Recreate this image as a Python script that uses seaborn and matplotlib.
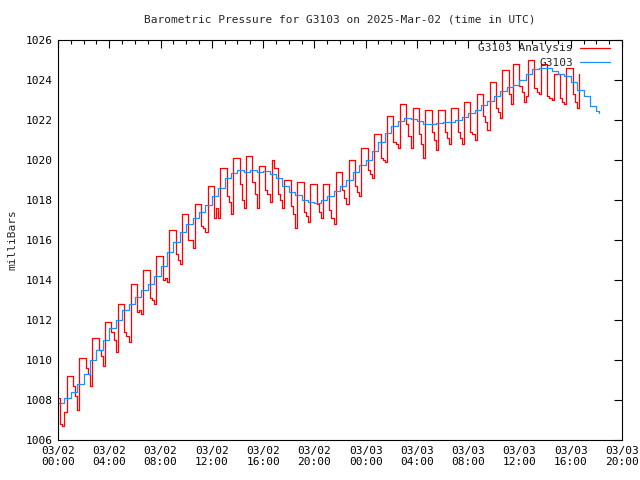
import matplotlib
matplotlib.use("Agg")
import matplotlib.pyplot as plt
import seaborn as sns
import numpy as np
import pandas as pd

# ---- data ----
title = "Barometric Pressure for G3103 on 2025-Mar-02 (time in UTC)"
ylabel = "milliBars"
series_names = ["G3103 Analysis", "G3103"]

# Analysis series: 10-minute samples starting 03/02 00:00 (hours)
analysis_values = [
    1008.1, 1006.8, 1006.7, 1007.4, 1009.2, 1009.2,
    1009.2, 1008.7, 1008.2, 1007.5, 1010.1, 1010.1,
    1010.1, 1009.6, 1009.3, 1008.7, 1011.1, 1011.1,
    1011.1, 1010.5, 1010.2, 1009.7, 1011.9, 1011.9,
    1011.9, 1011.4, 1011.0, 1010.4, 1012.8, 1012.8,
    1012.8, 1011.4, 1011.2, 1010.9, 1013.8, 1013.8,
    1013.8, 1012.4, 1012.5, 1012.3, 1014.5, 1014.5,
    1014.5, 1013.1, 1013.0, 1012.8, 1015.2, 1015.2,
    1015.2, 1014.0, 1014.1, 1013.9, 1016.5, 1016.5,
    1016.5, 1015.3, 1015.0, 1014.8, 1017.3, 1017.3,
    1017.3, 1016.0, 1016.0, 1015.6, 1017.8, 1017.8,
    1017.8, 1016.7, 1016.6, 1016.4, 1018.7, 1018.7,
    1018.7, 1017.1, 1017.6, 1017.1, 1019.6, 1019.6,
    1019.6, 1018.2, 1017.9, 1017.3, 1020.1, 1020.1,
    1020.1, 1018.8, 1018.0, 1017.6, 1020.2, 1020.2,
    1020.2, 1018.9, 1018.3, 1017.6, 1019.7, 1019.7,
    1019.7, 1018.5, 1018.3, 1017.9, 1020.0, 1019.6,
    1019.6, 1018.3, 1018.0, 1017.6, 1019.0, 1019.0,
    1019.0, 1017.7, 1017.3, 1016.6, 1018.9, 1018.9,
    1018.9, 1017.4, 1017.2, 1016.9, 1018.8, 1018.8,
    1018.8, 1017.8, 1017.4, 1017.1, 1018.8, 1018.8,
    1018.8, 1017.5, 1017.1, 1016.8, 1019.4, 1019.4,
    1019.4, 1018.5, 1018.1, 1017.8, 1020.0, 1020.0,
    1020.0, 1018.7, 1018.4, 1018.2, 1020.6, 1020.6,
    1020.6, 1019.5, 1019.3, 1019.1, 1021.3, 1021.3,
    1021.3, 1020.1, 1020.0, 1019.9, 1022.2, 1022.2,
    1022.2, 1020.9, 1020.8, 1020.6, 1022.8, 1022.8,
    1022.8, 1021.8, 1021.2, 1020.6, 1022.6, 1022.6,
    1022.6, 1021.3, 1020.8, 1020.1, 1022.5, 1022.5,
    1022.5, 1021.4, 1021.0, 1020.5, 1022.5, 1022.5,
    1022.5, 1021.4, 1021.1, 1020.8, 1022.6, 1022.6,
    1022.6, 1021.4, 1021.1, 1020.8, 1022.9, 1022.9,
    1022.9, 1021.4, 1021.3, 1021.0, 1023.3, 1023.3,
    1023.3, 1022.2, 1021.9, 1021.5, 1023.9, 1023.9,
    1023.9, 1022.6, 1022.4, 1022.1, 1024.5, 1024.5,
    1024.5, 1023.3, 1022.8, 1024.8, 1024.8, 1024.8,
    1023.7, 1023.4, 1022.9, 1023.2, 1025.0, 1025.0,
    1025.0, 1023.6, 1023.4, 1023.3, 1024.8, 1024.8,
    1024.8, 1023.2, 1023.1, 1023.0, 1024.3, 1024.3,
    1024.3, 1023.1, 1022.9, 1022.8, 1024.6, 1024.6,
    1024.6, 1023.3, 1022.9, 1022.6, 1024.3,
]

# Observed series: 30-minute samples starting 03/02 00:00
observed_values = [
    1007.85, 1008.1, 1008.4, 1008.8, 1009.3, 1010.0, 1010.5, 1011.0,
    1011.6, 1012.0, 1012.5, 1012.8, 1013.15, 1013.5, 1013.8, 1014.2,
    1014.7, 1015.4, 1015.9, 1016.4, 1016.8, 1017.1, 1017.4, 1017.75,
    1018.2, 1018.6, 1019.1, 1019.35, 1019.5, 1019.4, 1019.5, 1019.4,
    1019.45, 1019.3, 1019.1, 1018.7, 1018.4, 1018.25, 1018.0, 1017.9,
    1017.85, 1018.0, 1018.2, 1018.45, 1018.7, 1019.0, 1019.4, 1019.75,
    1020.0, 1020.45, 1020.9, 1021.35, 1021.7, 1021.95, 1022.1, 1022.05,
    1021.95, 1021.8, 1021.8, 1021.85, 1021.9, 1021.9, 1022.0, 1022.15,
    1022.35, 1022.5, 1022.75, 1022.95, 1023.2, 1023.45, 1023.65, 1023.75,
    1024.0, 1024.3, 1024.55, 1024.6, 1024.6, 1024.45, 1024.3, 1024.2,
    1023.9, 1023.5, 1023.2, 1022.7, 1022.45, 1022.35,
]

xtick_labels = ["03/02\n00:00", "03/02\n04:00", "03/02\n08:00", "03/02\n12:00",
                "03/02\n16:00", "03/02\n20:00", "03/03\n00:00", "03/03\n04:00",
                "03/03\n08:00", "03/03\n12:00", "03/03\n16:00", "03/03\n20:00"]
ytick_values = [1006, 1008, 1010, 1012, 1014, 1016, 1018, 1020, 1022, 1024, 1026]

# ---- build frames ----
t_analysis = np.arange(len(analysis_values)) / 6.0
t_obs = np.arange(len(observed_values)) / 2.0
t_obs[-1] = 42.2
df_a = pd.DataFrame({"hours": t_analysis, "mb": analysis_values})
df_o = pd.DataFrame({"hours": t_obs, "mb": observed_values})

sns.set_theme(style="white")
plt.rcParams['font.family'] = ['DejaVu Sans Mono']

fig = plt.figure(figsize=(6.4, 4.8), dpi=100)
ax = fig.add_axes([58/640, 40/480, 564/640, 400/480])

sns.lineplot(data=df_a, x="hours", y="mb", ax=ax, color="#ff0000", lw=0.9,
             drawstyle="steps-post", estimator=None, sort=False,
             label=series_names[0])
sns.lineplot(data=df_o, x="hours", y="mb", ax=ax, color="#1e8fff", lw=0.9,
             drawstyle="steps-post", estimator=None, sort=False,
             label=series_names[1])

ax.set_xlim(0, 44)
ax.set_ylim(1006, 1026)
ax.set_xticks(np.arange(0, 45, 4))
ax.set_xticklabels(xtick_labels, fontsize=8)
ax.set_xticks(np.arange(0, 45, 1), minor=True)
ax.set_yticks(ytick_values)
ax.set_yticklabels([str(v) for v in ytick_values], fontsize=8)
ax.tick_params(which="both", direction="in", top=True, right=True,
               colors="black", pad=4)
ax.tick_params(which="major", length=6, width=0.8)
ax.tick_params(which="minor", length=3, width=0.8)
ax.tick_params(axis="y", which="minor", left=False, right=False)
for s in ax.spines.values():
    s.set_color("black")
    s.set_linewidth(0.8)

ax.set_xlabel("")
ax.set_ylabel(ylabel, fontsize=8, labelpad=6)
fig.text(340/640, 1 - 20/480, title, ha="center", va="center", fontsize=8)

leg = ax.legend(loc="upper right", bbox_to_anchor=(1 - 8/564, 1 + 1/400),
                frameon=False, markerfirst=False,
                fontsize=8, handlelength=2.7, borderaxespad=0.0,
                labelspacing=0.4, handletextpad=0.6)

fig.savefig("out.png", dpi=100)
